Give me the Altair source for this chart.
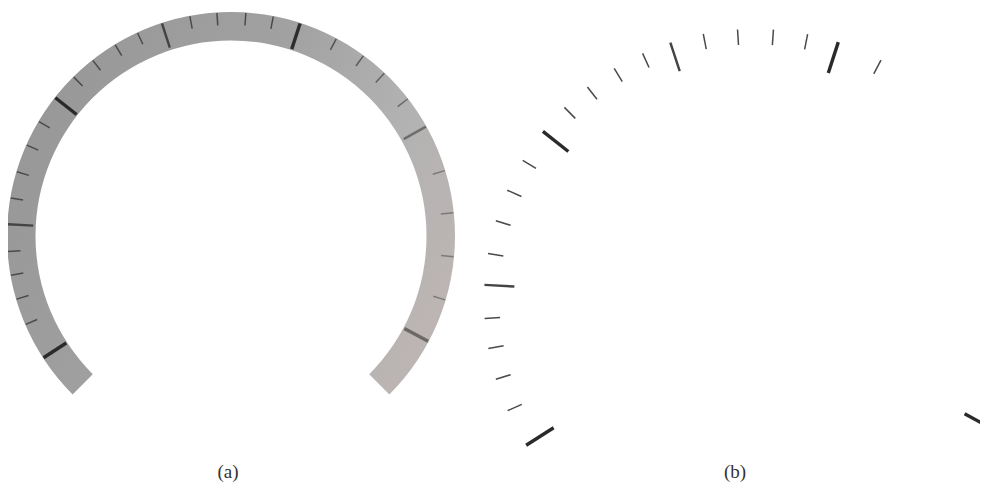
import altair as alt
import pandas as pd

# ---------------- panel (a): gauge ring with its scale marks ----------------
a_center = (231, 236)
a_ring_theta = (-135, 135)          # degrees, clockwise from 12 o'clock
a_ring_radius = (195.5, 224)        # inner, outer (px units of the plot scale)
a_tick_theta = [-123.0, -113.3, -106.4, -100.1, -94.0, -87.0, -80.2, -73.3, -66.0, -59.2,
                -51.8, -44.7, -38.2, -31.2, -24.7, -18.0, -10.6, -3.6, 3.8, 10.9,
                18.0, 28.1, 36.3, 43.3, 52.2, 60.7, 73.0, 84.0, 95.3, 106.6, 118.1]
a_tick_kind = ["major", "minor", "minor", "minor", "minor", "medium", "minor", "minor", "minor", "minor",
               "major", "minor", "minor", "minor", "minor", "medium", "minor", "minor", "minor", "minor",
               "major", "minor", "minor", "minor", "minor", "medium", "minor", "minor", "minor", "minor",
               "major"]
a_outer_r = 223.5
a_inner_r = {"major": 196.5, "medium": 198.0, "minor": 211.0}

# ---------------- panel (b): detected scale marks ----------------
b_center = (755, 300)
b_tick_theta = [-122.4, -114.1, -107.0, -100.3, -93.9, -86.8, -80.1, -73.0, -66.1, -59.0,
                -51.5, -44.7, -38.2, -31.3, -24.5, -18.2, -11.0, -3.7, 3.9, 11.2,
                17.9, 27.7, 118.5]
b_tick_kind = ["major", "minor", "minor", "minor", "minor", "medium", "minor", "minor", "minor", "minor",
               "major", "minor", "minor", "minor", "minor", "medium", "minor", "minor", "minor", "minor",
               "major", "minor", "major"]
b_outer_r = 271.0
b_inner_r = {"major": 238.5, "medium": 241.0, "minor": 255.5}

labels = ["(a)", "(b)"]
label_x = [228, 735]
label_y = [478, 478]

# ---------------- tables ----------------
ring = pd.DataFrame({"cx": [a_center[0]], "cy": [a_center[1]],
                     "t0": [a_ring_theta[0]], "t1": [a_ring_theta[1]],
                     "r0": [a_ring_radius[0]], "r1": [a_ring_radius[1]]})

ticks_a = pd.DataFrame({"theta": a_tick_theta, "kind": a_tick_kind})
ticks_a["cx"], ticks_a["cy"] = a_center
ticks_a["ro"] = a_outer_r
ticks_a["ri"] = ticks_a["kind"].map(a_inner_r)

ticks_b = pd.DataFrame({"theta": b_tick_theta, "kind": b_tick_kind})
ticks_b["cx"], ticks_b["cy"] = b_center
ticks_b["ro"] = b_outer_r
ticks_b["ri"] = ticks_b["kind"].map(b_inner_r)

lab = pd.DataFrame({"text": labels, "x": label_x, "y": label_y})

xs = alt.Scale(domain=[8, 980])
ys = alt.Scale(domain=[8, 483], reverse=True)


def tick_layer(df, widths, colors, opacity=None):
    base = alt.Chart(df).transform_calculate(
        xo="datum.cx + datum.ro * sin(datum.theta * PI / 180)",
        yo="datum.cy - datum.ro * cos(datum.theta * PI / 180)",
        xi="datum.cx + datum.ri * sin(datum.theta * PI / 180)",
        yi="datum.cy - datum.ri * cos(datum.theta * PI / 180)",
    )
    enc = dict(
        x=alt.X("xo:Q", scale=xs, axis=None),
        y=alt.Y("yo:Q", scale=ys, axis=None),
        x2="xi:Q",
        y2="yi:Q",
        strokeWidth=alt.StrokeWidth("kind:N", scale=alt.Scale(domain=["major", "medium", "minor"], range=widths), legend=None),
        color=alt.Color("kind:N", scale=alt.Scale(domain=["major", "medium", "minor"], range=colors), legend=None),
    )
    if opacity is not None:
        enc["opacity"] = opacity
    return base.mark_rule(strokeCap="butt").encode(**enc)


ring_fill = alt.LinearGradient(
    gradient="linear",
    stops=[alt.GradientStop(color="#979797", offset=0),
           alt.GradientStop(color="#a1a1a1", offset=0.45),
           alt.GradientStop(color="#b2b2b2", offset=0.75),
           alt.GradientStop(color="#bcb5b3", offset=1)],
    x1=0, y1=0.3, x2=1, y2=0.7,
)

ring_layer = alt.Chart(ring).mark_arc(fill=ring_fill, strokeWidth=0).encode(
    x=alt.X("cx:Q", scale=xs, axis=None),
    y=alt.Y("cy:Q", scale=ys, axis=None),
    theta=alt.Theta("t0:Q", scale=alt.Scale(domain=[-180, 180], range=[-3.141592653589793, 3.141592653589793]), stack=False),
    theta2="t1:Q",
    radius=alt.Radius("r0:Q", scale=alt.Scale(type="linear", domain=[0, 300], range=[0, 300])),
    radius2="r1:Q",
)

a_ticks = tick_layer(
    ticks_a, [3.4, 1.5, 1.5], ["#2a2a2a", "#444444", "#4a4a4a"],
    opacity=alt.Opacity("theta:Q", scale=alt.Scale(domain=[15, 70], range=[1, 0.55], clamp=True), legend=None),
)
b_ticks = tick_layer(ticks_b, [2.4, 1.5, 1.5], ["#000000", "#000000", "#000000"])

text_layer = alt.Chart(lab).mark_text(
    font="Liberation Serif", fontSize=19, color="#333333", baseline="alphabetic", align="center"
).encode(
    x=alt.X("x:Q", scale=xs, axis=None),
    y=alt.Y("y:Q", scale=ys, axis=None),
    text="text:N",
)

chart = alt.layer(ring_layer, a_ticks, b_ticks, text_layer).properties(
    width=972, height=475, autosize=alt.AutoSizeParams(type="none"), padding=0
).configure_view(stroke=None)

chart.save("out.html", embed_options={"renderer": "svg", "actions": False})
